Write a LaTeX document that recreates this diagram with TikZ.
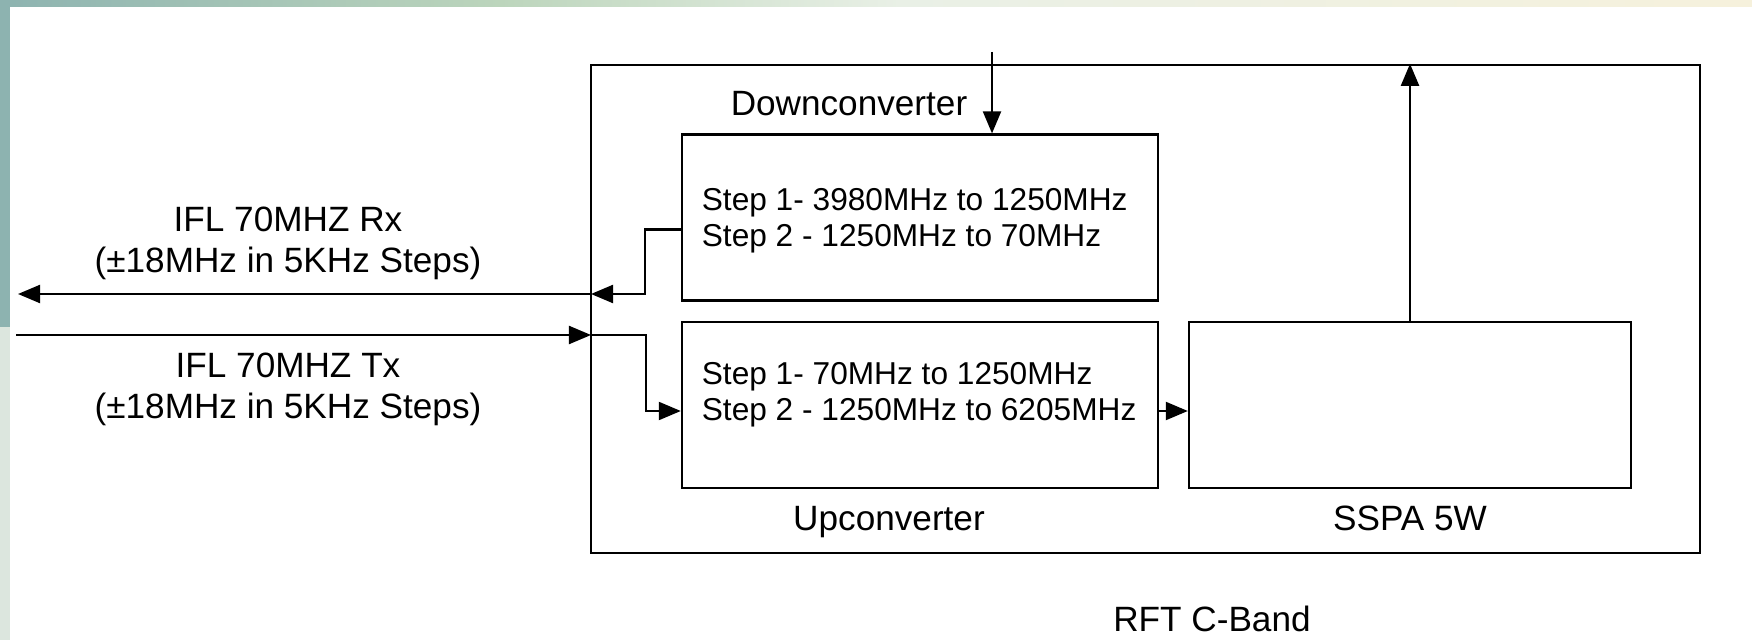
\documentclass[tikz,border=0pt]{standalone}
\usepackage{fontspec}
\setmainfont{Liberation Sans}
\usetikzlibrary{positioning, arrows.meta, calc}
\definecolor{bgteal}{HTML}{8DB3B0}
\definecolor{bggreen}{HTML}{BCD5BC}
\definecolor{bgpale}{HTML}{E9F0E6}
\definecolor{bgcream}{HTML}{F6F1DC}
\definecolor{bglight}{HTML}{DCE6DE}

\begin{document}
\begin{tikzpicture}[x=0.01cm, y=-0.01cm, line width=0.6pt, >={Triangle[length=2.2mm, width=1.8mm]},
  blk/.style={draw, minimum width=4.76cm, minimum height=1.66cm, inner sep=0pt},
  txt/.style={anchor=west, align=left, font=\fontsize{9}{10.2}\selectfont, inner sep=0pt},
  lbl/.style={align=center, font=\fontsize{10}{11.7}\selectfont, inner sep=0pt}]
  \useasboundingbox (0,0) rectangle (1752,640);
  % slide background
  \fill[white] (0,0) rectangle (1752,640);
  \shade[left color=bgteal, right color=bggreen] (0,0) rectangle (500,7);
  \shade[left color=bggreen, right color=bgpale] (500,0) rectangle (900,7);
  \shade[left color=bgpale, right color=bgcream] (900,0) rectangle (1752,7);
  \fill[bgteal] (0,0) rectangle (10,327);
  \fill[bglight] (0,327) rectangle (10,640);

  % RFT unit and its blocks
  \node[draw, minimum width=11.09cm, minimum height=4.88cm, inner sep=0pt] (rft) at (1145.5,309) {};
  \node[blk] (dc) at (920,217.5) {};
  \node[blk] (uc) at (920,405) {};
  \node[blk, minimum width=4.42cm] (sspa) at (1410,405) {};
  \node[txt] (dctxt) at ($(dc.west)+(20,3)$) {Step 1- 3980MHz to 1250MHz\\Step 2 - 1250MHz to 70MHz};
  \node[txt] (uctxt) at ($(uc.west)+(20,-10)$) {Step 1- 70MHz to 1250MHz\\Step 2 - 1250MHz to 6205MHz};
  \node[lbl] (dclbl) at (849,104) {Downconverter};
  \node[lbl] (uclbl) at (889,522) {Upconverter};
  \node[lbl] (sspalbl) at (1410,518) {SSPA 5W};
  \node[lbl] (rftlbl) at (1212,619) {RFT C-Band};

  % IFL ports
  \coordinate (rfin) at (992,52);
  \coordinate (rxport) at (591,294);
  \coordinate (rxout) at (18,294);
  \coordinate (txin) at (16,335);
  \coordinate (txport) at (591,335);
  \node[lbl] (rxlbl) at (288,243.5) {IFL 70MHZ Rx\\(±18MHz in 5KHz Steps)};
  \node[lbl] (txlbl) at (288,389) {IFL 70MHZ Tx\\(±18MHz in 5KHz Steps)};

  % signal paths
  \draw[->] (rfin) -- (rfin |- dc.north);
  \draw[->] ($(dc.west)+(0,12)$) -- ++(-36,0) |- (rxport);
  \draw[->] (rxport) -- (rxout);
  \draw[->] (txin) -- (txport);
  \draw[->] (txport) -- (646,335) |- ($(uc.west)+(0,6)$);
  \draw[->] ($(uc.east)+(0,6)$) -- ($(sspa.west)+(0,6)$);
  \draw[->] (sspa.north) -- (sspa.north |- rft.north);
\end{tikzpicture}
\end{document}
